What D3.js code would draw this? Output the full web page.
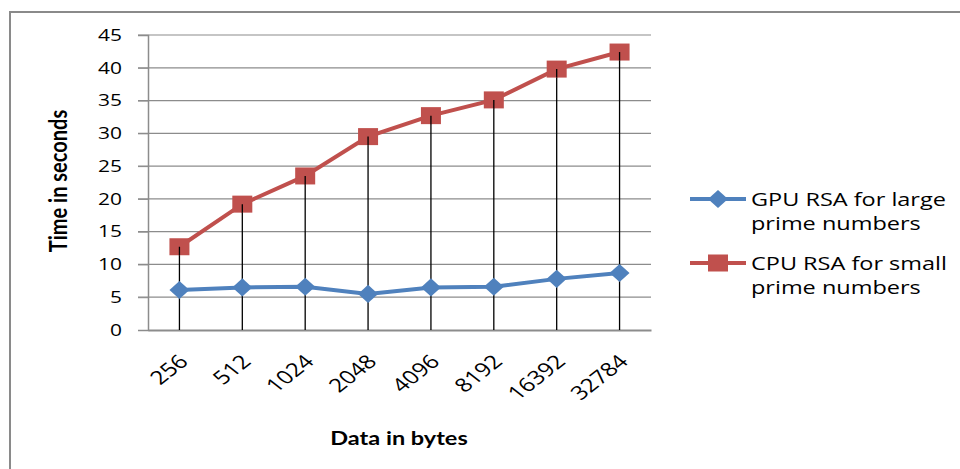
<!DOCTYPE html>
<html>
<head>
  <meta charset="utf-8">
  <script src="https://d3js.org/d3.v7.min.js"></script>
  <style>
    body { margin: 0; background: #fff; }
    text { font-family: "Open Sans", sans-serif; fill: #000; }
    .ttl { font-family: "Lato", sans-serif; font-weight: bold; }
  </style>
</head>
<body>
<script>
  // data
  var sizes = ["256", "512", "1024", "2048", "4096", "8192", "16392", "32784"];
  var gpuTimes = [6.1, 6.5, 6.6, 5.5, 6.5, 6.6, 7.8, 8.7];
  var cpuTimes = [12.7, 19.2, 23.5, 29.5, 32.7, 35.1, 39.8, 42.4];
  var yTicks = [0, 5, 10, 15, 20, 25, 30, 35, 40, 45];
  var seriesNames = ["GPU RSA for large|prime numbers", "CPU RSA for small|prime numbers"];

  var W = 960, H = 469;
  var mLeft = 148, mRight = 651, mTop = 35, mBottom = 330;
  var S = 1.27; // the picture is stretched sideways

  var svg = d3.select("body").append("svg")
      .attr("width", W).attr("height", H);

  // outer frame
  svg.append("path")
      .attr("d", "M10," + (H + 5) + "V12H" + (W + 5))
      .attr("fill", "none").attr("stroke", "#8a8a8a").attr("stroke-width", 2);

  var x = d3.scaleBand().domain(sizes).range([mLeft, mRight]);
  var y = d3.scaleLinear().domain([0, 45]).range([mBottom, mTop]);
  var cx = function(d) { return x(d) + x.bandwidth() / 2; };

  // gridlines
  svg.append("g").selectAll("line")
      .data(yTicks.filter(function(t) { return t > 0; }))
      .enter().append("line")
      .attr("x1", mLeft - 10).attr("x2", mRight)
      .attr("y1", function(d) { return y(d); })
      .attr("y2", function(d) { return y(d); })
      .attr("stroke", "#8c8c8c").attr("stroke-width", 1.2);

  // y axis
  var yAxis = svg.append("g")
      .attr("transform", "translate(" + mLeft + ",0)")
      .call(d3.axisLeft(y).tickValues(yTicks).tickSize(10));
  yAxis.select(".domain").attr("stroke", "#8c8c8c").attr("stroke-width", 1.5);
  yAxis.selectAll(".tick line").attr("stroke", "#8c8c8c");
  yAxis.selectAll(".tick text")
      .attr("x", null)
      .attr("transform", "translate(-26,0) scale(" + S + ",1)")
      .attr("text-anchor", "end")
      .style("font-size", "16.5px").style("font-family", "Open Sans");

  // x axis
  var xAxis = svg.append("g")
      .attr("transform", "translate(0," + mBottom + ")")
      .call(d3.axisBottom(x).tickSize(0).tickFormat(""));
  xAxis.select(".domain").attr("stroke", "#8c8c8c").attr("stroke-width", 2);

  // drop lines
  svg.append("g").selectAll("line")
      .data(sizes)
      .enter().append("line")
      .attr("x1", cx).attr("x2", cx)
      .attr("y1", function(d, i) { return y(Math.max(cpuTimes[i], gpuTimes[i])); })
      .attr("y2", mBottom)
      .attr("stroke", "#000").attr("stroke-width", 1.3);

  // x tick labels
  svg.append("g").selectAll("text")
      .data(sizes)
      .enter().append("text")
      .attr("transform", function(d) {
        return "translate(" + (cx(d) + 4) + "," + (mBottom + 28) + ") scale(" + S + ",1) rotate(-45)";
      })
      .attr("text-anchor", "end")
      .attr("dy", "0.35em")
      .style("font-size", "19px")
      .text(function(d) { return d; });

  var line = d3.line()
      .x(function(d, i) { return cx(sizes[i]); })
      .y(function(d) { return y(d); });

  var blue = "#4f81bd", red = "#c0504d";

  svg.append("path").datum(gpuTimes)
      .attr("d", line).attr("fill", "none")
      .attr("stroke", blue).attr("stroke-width", 4);
  svg.append("path").datum(cpuTimes)
      .attr("d", line).attr("fill", "none")
      .attr("stroke", red).attr("stroke-width", 4);

  var diamond = d3.symbol().type(d3.symbolDiamond2).size(210);
  svg.append("g").selectAll("path")
      .data(gpuTimes).enter().append("path")
      .attr("d", diamond)
      .attr("transform", function(d, i) { return "translate(" + cx(sizes[i]) + "," + y(d) + ") scale(1.1,1)"; })
      .attr("fill", blue);

  svg.append("g").selectAll("rect")
      .data(cpuTimes).enter().append("rect")
      .attr("x", function(d, i) { return cx(sizes[i]) - 10; })
      .attr("y", function(d) { return y(d) - 8.5; })
      .attr("width", 20).attr("height", 17)
      .attr("fill", red);

  // drop lines show through the squares
  svg.append("g").selectAll("line")
      .data(sizes)
      .enter().append("line")
      .attr("x1", cx).attr("x2", cx)
      .attr("y1", function(d, i) { return y(cpuTimes[i]); })
      .attr("y2", function(d, i) { return y(cpuTimes[i]) + 8.5; })
      .attr("stroke", "#000").attr("stroke-width", 1.3);

  // axis titles
  svg.append("text")
      .attr("class", "ttl")
      .attr("transform", "translate(67,181) scale(" + S + ",1) rotate(-90)")
      .attr("text-anchor", "middle")
      .style("font-size", "20px")
      .text("Time in seconds");

  svg.append("text")
      .attr("class", "ttl")
      .attr("transform", "translate(399,445) scale(" + S + ",1)")
      .attr("text-anchor", "middle")
      .style("font-size", "18.5px")
      .text("Data in bytes");

  // legend
  var legend = svg.append("g");
  var lgY = [199, 263];
  [blue, red].forEach(function(c, i) {
    var g = legend.append("g").attr("transform", "translate(0," + lgY[i] + ")");
    g.append("line").attr("x1", 690).attr("x2", 746)
      .attr("stroke", c).attr("stroke-width", 4);
    if (i === 0) {
      g.append("path").attr("d", diamond).attr("transform", "translate(718,0) scale(1.1,1)").attr("fill", c);
    } else {
      g.append("rect").attr("x", 708).attr("y", -8.5).attr("width", 20).attr("height", 17).attr("fill", c);
    }
    var t = g.append("text")
      .attr("transform", "translate(751,6.5) scale(" + S + ",1)")
      .style("font-size", "18.5px");
    seriesNames[i].split("|").forEach(function(s, k) {
      t.append("tspan").attr("x", 0).attr("dy", k === 0 ? 0 : 25).text(s);
    });
  });
</script>
</body>
</html>
